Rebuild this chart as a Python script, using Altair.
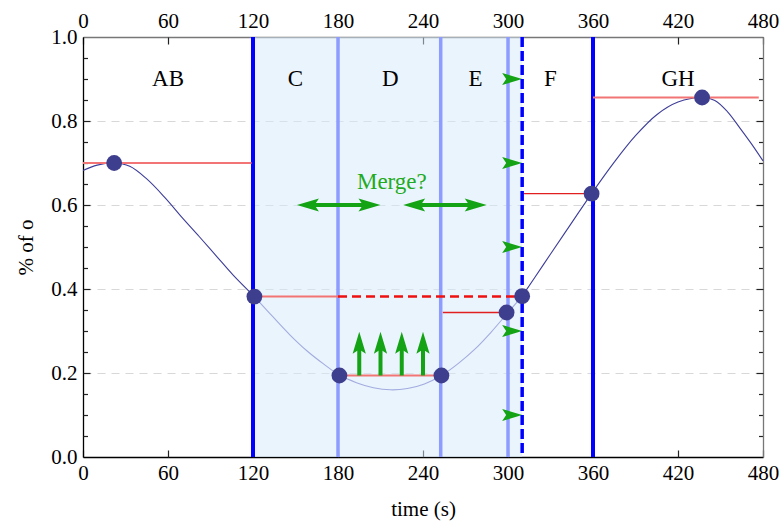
import altair as alt
import pandas as pd

FONT = "Liberation Serif"
GREEN = "#14a314"

# ---------------- data ----------------
curve_t = [0, 10, 22, 33, 45, 58, 70, 82, 94, 106, 121, 134, 146, 158, 170, 181,
           193, 205, 217, 229, 241, 253, 265, 277, 288, 299, 310, 325, 340, 359,
           375, 390, 405, 420, 437, 446, 455, 464, 472, 480]
curve_v = [0.682, 0.695, 0.700, 0.692, 0.662, 0.617, 0.570, 0.525, 0.479, 0.433,
           0.382, 0.334, 0.291, 0.253, 0.221, 0.195, 0.177, 0.165, 0.160, 0.163,
           0.174, 0.194, 0.223, 0.258, 0.297, 0.340, 0.383, 0.458, 0.533, 0.627,
           0.702, 0.765, 0.815, 0.845, 0.856, 0.849, 0.822, 0.782, 0.745, 0.705]

shade_start = [120]
shade_end = [310]

strong_lines_t = [120, 360]
light_lines_t = [180, 252.5, 300]
dashed_lines_t = [310]

pts_t = [22, 121, 181, 253, 299, 310, 359, 437]
pts_v = [0.700, 0.382, 0.194, 0.194, 0.344, 0.383, 0.627, 0.856]

pale_lv_start = [0, 121, 181, 360]
pale_lv_end = [119, 180, 253, 477]
pale_lv_v = [0.700, 0.382, 0.194, 0.856]

thin_lv_start = [254, 311]
thin_lv_end = [299, 359]
thin_lv_v = [0.344, 0.627]

dash_lv_start = [180]
dash_lv_end = [310]
dash_lv_v = [0.382]

region_t = [60, 150, 217, 277, 330, 420]
region_names = ["AB", "C", "D", "E", "F", "GH"]
region_v = [0.9, 0.9, 0.9, 0.9, 0.9, 0.9]

up_t = [195, 210, 225, 240]
up_from = [0.194, 0.194, 0.194, 0.194]
up_to = [0.298, 0.298, 0.298, 0.298]

push_t = [310, 310, 310, 310, 310]
push_v = [0.9, 0.7, 0.5, 0.3, 0.1]

merge_start = [151, 226]
merge_end = [210, 285]
merge_v = [0.6, 0.6]

merge_label = ["Merge?"]
merge_label_t = [218]
merge_label_v = [0.655]

x_ticks = [0, 60, 120, 180, 240, 300, 360, 420, 480]
y_major = [0.0, 0.2, 0.4, 0.6, 0.8, 1.0]
y_inner = [0.2, 0.4, 0.6, 0.8]
y_minor = [0.05, 0.1, 0.15, 0.25, 0.3, 0.35, 0.45, 0.5, 0.55, 0.65, 0.7, 0.75,
           0.85, 0.9, 0.95]

W, H = 680, 420

# ---------------- tables ----------------
curve = pd.DataFrame({"t": curve_t, "v": curve_v})
pre = curve[curve.t <= 121].assign(seg="pre")
mid = curve[(curve.t >= 121) & (curve.t <= 310)].assign(seg="mid")
post = curve[curve.t >= 310].assign(seg="post")
dark_curve = pd.concat([pre, post], ignore_index=True)

pts = pd.DataFrame({"t": pts_t, "v": pts_v})
pale = pd.DataFrame({"s": pale_lv_start, "e": pale_lv_end, "v": pale_lv_v})
thin = pd.DataFrame({"s": thin_lv_start, "e": thin_lv_end, "v": thin_lv_v})
dash = pd.DataFrame({"s": dash_lv_start, "e": dash_lv_end, "v": dash_lv_v})
regions = pd.DataFrame({"t": region_t, "v": region_v, "name": region_names})
shade = pd.DataFrame({"s": shade_start, "e": shade_end})
strong = pd.DataFrame({"t": strong_lines_t})
light = pd.DataFrame({"t": light_lines_t})
dashed = pd.DataFrame({"t": dashed_lines_t})

up = pd.DataFrame({"t": up_t, "lo": up_from, "tip": up_to})
up["hi"] = up["tip"] - 0.031
push = pd.DataFrame({"t": push_t, "v": push_v})
merge = pd.DataFrame({"s": merge_start, "e": merge_end, "v": merge_v})
merge["s_in"] = merge["s"] + 10
merge["e_in"] = merge["e"] - 10
mlabel = pd.DataFrame({"t": merge_label_t, "v": merge_label_v, "txt": merge_label})

xs = alt.Scale(domain=[0, 480], nice=False, zero=False)
ys = alt.Scale(domain=[0, 1], nice=False, zero=False)

# ---------------- axes ----------------
lab = dict(labelFont=FONT, labelFontSize=21, labelColor="black")
ax_bottom = alt.Axis(orient="bottom", values=x_ticks, format="d", ticks=False, tickSize=0,
                     domain=True, domainColor="black", domainWidth=1.3, grid=False,
                     labelPadding=22, labelBaseline="alphabetic", labelFlush=False,
                     labelOverlap=False, title="time (s)", titleFont=FONT,
                     titleFontSize=21, titleFontWeight="normal", titleColor="black",
                     titleX=340, titleY=58, titleBaseline="alphabetic", **lab)
ax_top = alt.Axis(orient="top", values=x_ticks, format="d", ticks=False, tickSize=0,
                  domain=True, domainColor="#777777", domainWidth=1.3, grid=False,
                  labelPadding=10, labelBaseline="alphabetic", labelFlush=False,
                  labelOverlap=False, title=None, **lab)
tk = dict(labels=False, domain=False, grid=False, title=None, tickColor="#222222",
          tickWidth=1.2)
ax_bottom_ticks = alt.Axis(orient="top", offset=-H, values=x_ticks, tickSize=7, **tk)
ax_top_ticks = alt.Axis(orient="bottom", offset=-H, values=x_ticks, tickSize=7, **tk)

ax_left = alt.Axis(orient="left", values=y_major, format=".1f", ticks=False, tickSize=0,
                   domain=True, domainColor="black", domainWidth=1.3, grid=False,
                   labelPadding=6, title="% of o", titleFont=FONT, titleFontSize=21,
                   titleFontWeight="normal", titleColor="black", titleAngle=270,
                   titleX=-51, titleY=210, titleBaseline="alphabetic", titleAlign="center",
                   **lab)
ax_left_minor = alt.Axis(orient="right", offset=-W, values=y_minor, tickSize=4.5, **tk)
ax_left_major = alt.Axis(orient="right", offset=-W, values=y_inner, tickSize=7,
                         labels=False, domain=False, title=None, tickColor="#222222",
                         tickWidth=1.2, grid=True, gridDash=[8, 6], gridColor="#d8d8d8",
                         gridWidth=1.2)
ax_right_minor = alt.Axis(orient="left", offset=-W, values=y_minor, tickSize=4.5,
                          labels=False, domain=True, domainColor="#777777",
                          domainWidth=1.3, grid=False, title=None, tickColor="#222222",
                          tickWidth=1.2)
ax_right_major = alt.Axis(orient="left", offset=-W, values=y_inner, tickSize=7, **tk)

# ---------------- layers ----------------
shade_layer = alt.Chart(shade).mark_rect(color="#d5e9fb", opacity=0.5).encode(
    x=alt.X("s:Q", scale=xs, axis=None), x2="e:Q",
    y=alt.Y(datum=0, scale=ys, axis=None), y2=alt.Y2(datum=1))

light_layer = alt.Chart(light).mark_rule(color="#8e9cff", strokeWidth=3.5).encode(
    x=alt.X("t:Q", scale=xs, axis=None))
strong_layer = alt.Chart(strong).mark_rule(color="#0000ff", strokeWidth=4).encode(
    x=alt.X("t:Q", scale=xs, axis=None))
dashed_layer = alt.Chart(dashed).mark_rule(color="#0000ff", strokeWidth=3.5,
                                           strokeDash=[10, 4]).encode(
    x=alt.X("t:Q", scale=xs, axis=None))

dark_curve_layer = alt.Chart(dark_curve).mark_line(
    color="#3d3d99", strokeWidth=1.1, interpolate="catmull-rom").encode(
    x=alt.X("t:Q", scale=xs, axis=ax_bottom),
    y=alt.Y("v:Q", scale=ys, axis=ax_left),
    detail="seg:N", order="t:Q")
light_curve_layer = alt.Chart(mid).mark_line(
    color="#a3acdf", strokeWidth=1.1, interpolate="catmull-rom").encode(
    x=alt.X("t:Q", scale=xs, axis=ax_top),
    y=alt.Y("v:Q", scale=ys, axis=ax_left_minor),
    order="t:Q")

pale_layer = alt.Chart(pale).mark_rule(color="#f27474", strokeWidth=2).encode(
    x=alt.X("s:Q", scale=xs, axis=ax_bottom_ticks), x2="e:Q",
    y=alt.Y("v:Q", scale=ys, axis=ax_left_major))
thin_layer = alt.Chart(thin).mark_rule(color="#e02020", strokeWidth=1.3).encode(
    x=alt.X("s:Q", scale=xs, axis=ax_top_ticks), x2="e:Q",
    y=alt.Y("v:Q", scale=ys, axis=ax_right_minor))
dash_layer = alt.Chart(dash).mark_rule(color="#ee1111", strokeWidth=2.5,
                                       strokeDash=[9, 5]).encode(
    x=alt.X("s:Q", scale=xs, axis=None), x2="e:Q",
    y=alt.Y("v:Q", scale=ys, axis=ax_right_major))

UP_HEAD = "M0,0L-0.3,1L0,0.8L0.3,1Z"
RIGHT_HEAD = "M0,0L-1,-0.3L-0.8,0L-1,0.3Z"
LEFT_HEAD = "M0,0L1,-0.3L0.8,0L1,0.3Z"

up_shaft = alt.Chart(up).mark_rule(color=GREEN, strokeWidth=4, strokeCap="butt").encode(
    x=alt.X("t:Q", scale=xs, axis=None),
    y=alt.Y("lo:Q", scale=ys, axis=None), y2="hi:Q")
up_head = alt.Chart(up).mark_point(shape=UP_HEAD, size=1936, filled=True, color=GREEN,
                                   opacity=1, strokeWidth=0).encode(
    x=alt.X("t:Q", scale=xs, axis=None),
    y=alt.Y("tip:Q", scale=ys, axis=None))
push_head = alt.Chart(push).mark_point(shape=RIGHT_HEAD, size=1600, filled=True,
                                       color=GREEN, opacity=1, strokeWidth=0).encode(
    x=alt.X("t:Q", scale=xs, axis=None),
    y=alt.Y("v:Q", scale=ys, axis=None))
merge_shaft = alt.Chart(merge).mark_rule(color=GREEN, strokeWidth=4,
                                         strokeCap="butt").encode(
    x=alt.X("s_in:Q", scale=xs, axis=None), x2="e_in:Q",
    y=alt.Y("v:Q", scale=ys, axis=None))
merge_left = alt.Chart(merge).mark_point(shape=LEFT_HEAD, size=1936, filled=True,
                                         color=GREEN, opacity=1, strokeWidth=0).encode(
    x=alt.X("s:Q", scale=xs, axis=None),
    y=alt.Y("v:Q", scale=ys, axis=None))
merge_right = alt.Chart(merge).mark_point(shape=RIGHT_HEAD, size=1936, filled=True,
                                          color=GREEN, opacity=1, strokeWidth=0).encode(
    x=alt.X("e:Q", scale=xs, axis=None),
    y=alt.Y("v:Q", scale=ys, axis=None))
merge_text = alt.Chart(mlabel).mark_text(font=FONT, fontSize=23, color="#22aa22",
                                         align="center", baseline="middle").encode(
    x=alt.X("t:Q", scale=xs, axis=None),
    y=alt.Y("v:Q", scale=ys, axis=None), text="txt:N")

pts_layer = alt.Chart(pts).mark_circle(size=250, color="#3e3e8e", opacity=1).encode(
    x=alt.X("t:Q", scale=xs, axis=None),
    y=alt.Y("v:Q", scale=ys, axis=None))

region_layer = alt.Chart(regions).mark_text(font=FONT, fontSize=23, color="black",
                                            align="center", baseline="middle").encode(
    x=alt.X("t:Q", scale=xs, axis=None),
    y=alt.Y("v:Q", scale=ys, axis=None), text="name:N")

chart = alt.layer(
    shade_layer, light_layer, strong_layer,
    dark_curve_layer, light_curve_layer,
    pale_layer, thin_layer, dash_layer,
    up_shaft, up_head, push_head, merge_shaft, merge_left, merge_right, merge_text,
    dashed_layer, pts_layer, region_layer,
).resolve_axis(x="independent", y="independent").properties(
    width=W, height=H,
    autosize=alt.AutoSizeParams(type="none"),
    padding={"left": 83, "top": 37, "right": 17, "bottom": 70},
).configure_view(stroke=None)

chart.save("out.html", embed_options={"renderer": "svg", "actions": False})
